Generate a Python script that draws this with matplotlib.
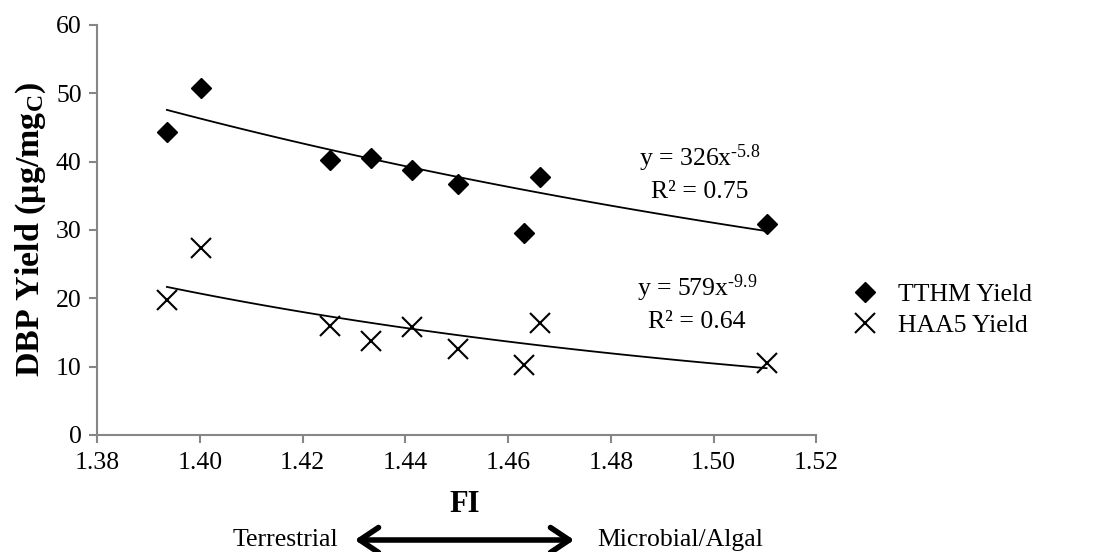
import numpy as np
import matplotlib.pyplot as plt
from matplotlib.patches import FancyArrowPatch

plt.rcParams['font.family'] = ['Liberation Serif', 'DejaVu Serif']
plt.rcParams['mathtext.fontset'] = 'custom'
plt.rcParams['mathtext.rm'] = 'Liberation Serif'
plt.rcParams['mathtext.it'] = 'Liberation Serif'
plt.rcParams['mathtext.bf'] = 'Liberation Serif:bold'

# FI values and DBP yields
fi = [1.3936, 1.4002, 1.4253, 1.4333, 1.4413, 1.4502, 1.4630, 1.4663, 1.5103]
tthm = [44.3, 50.7, 40.3, 40.5, 38.7, 36.7, 29.6, 37.8, 30.8]
haa5 = [19.7, 27.4, 15.9, 13.7, 15.8, 12.6, 10.3, 16.4, 10.6]

# power trendlines y = a * x^b as shown on the chart
tthm_fit = (326, -5.8)
haa5_fit = (579, -9.9)

fs = 18.5

fig = plt.figure(figsize=(10.95, 5.52), dpi=100)
ax = fig.add_axes([0.0886, 0.212, 0.657, 0.743])

xs = np.linspace(min(fi), max(fi), 100)
ax.plot(xs, tthm_fit[0] * xs ** tthm_fit[1], color='black', lw=1.3)
ax.plot(xs, haa5_fit[0] * xs ** haa5_fit[1], color='black', lw=1.3)

ax.plot(fi, tthm, 'D', color='black', markersize=10.5, label='TTHM Yield', zorder=3)
ax.plot(fi, haa5, 'x', color='black', markersize=14, markeredgewidth=1.5,
        label='HAA5 Yield', zorder=3)

ax.set_xlim(1.38, 1.52)
ax.set_ylim(0, 60)
xt = np.arange(1.38, 1.521, 0.02)
ax.set_xticks(xt)
ax.set_xticklabels([f'{v:.2f}' for v in xt])
ax.set_yticks(range(0, 61, 10))

for s in ['top', 'right']:
    ax.spines[s].set_visible(False)
for s in ['left', 'bottom']:
    ax.spines[s].set_color('#868686')
    ax.spines[s].set_linewidth(1.5)
ax.tick_params(axis='both', colors='#868686', labelcolor='black',
               labelsize=fs, length=6, width=1.5)
ax.tick_params(axis='x', pad=6)
ax.tick_params(axis='y', pad=5)

ax.set_ylabel('DBP Yield (μg/mg$_{\\mathbf{C}}$)', fontsize=24.5,
              fontweight='bold', labelpad=6)

fig.text(700 / 1095, 1 - 158 / 552, 'y = 326x$^{\\text{-}5.8}$', ha='center', va='center', fontsize=fs)
fig.text(700 / 1095, 1 - 192 / 552, 'R² = 0.75', ha='center', va='center', fontsize=fs)
fig.text(697 / 1095, 1 - 288 / 552, 'y = 579x$^{\\text{-}9.9}$', ha='center', va='center', fontsize=fs)
fig.text(697 / 1095, 1 - 322 / 552, 'R² = 0.64', ha='center', va='center', fontsize=fs)

fig.legend(loc='center left', bbox_to_anchor=(826 / 1095, 1 - 310 / 552),
           frameon=False, fontsize=fs, handlelength=1.2, handletextpad=0.7,
           labelspacing=0.35)

fig.text(465 / 1095, 1 - 505 / 552, 'FI', ha='center', va='center',
         fontsize=22, fontweight='bold')
fig.text(338 / 1095, 1 - 540 / 552, 'Terrestrial', ha='right', va='center', fontsize=fs)
fig.text(597 / 1095, 1 - 540 / 552, 'Microbial/Algal', ha='left', va='center', fontsize=fs)
fig.add_artist(FancyArrowPatch((352 / 1095, 1 - 540 / 552), (577 / 1095, 1 - 540 / 552),
                               transform=fig.transFigure,
                               arrowstyle='<->,head_length=9,head_width=6',
                               color='black', lw=4, mutation_scale=1.5))

fig.savefig('out.png', dpi=100)
